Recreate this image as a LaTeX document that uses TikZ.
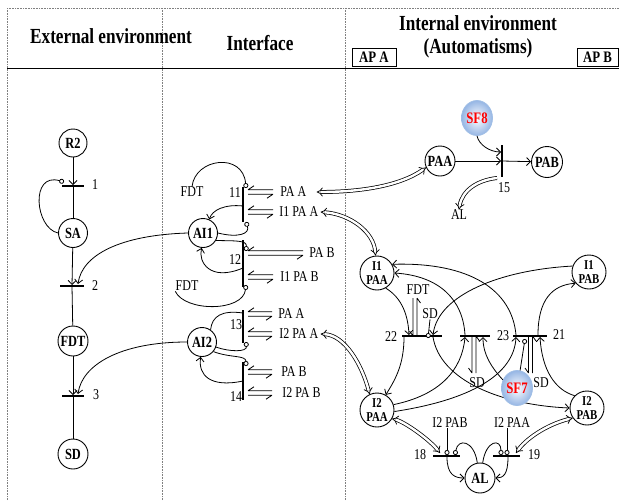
\documentclass[tikz,border=0pt]{standalone}
\usepackage{fontspec}
\setmainfont{Liberation Serif}[FakeStretch=0.8]
\usetikzlibrary{arrows.meta,shapes.geometric}

\tikzset{
  pics/hp/.style={code={
    \draw (0,-2.2) -- (#1,-2.2) (0,-2.2) -- (6,-6.2);
    \draw (0,2.2) -- (#1,2.2) (#1,2.2) -- (#1-6,6.2);
  }},
  pics/vup/.style={code={
    \draw (-2,0) -- (-2,-#1) (-2,0) -- (-5.5,-5);
    \draw (2,0) -- (2,-#1) (2,-#1) -- (5.5,-#1+5);
  }},
  pics/vdown/.style={code={
    \draw (-2,0) -- (-2,#1) (-2,#1) -- (-5.5,#1-5);
    \draw (2,0) -- (2,#1) (2,0) -- (5.5,5);
  }},
}

\begin{document}
\begin{tikzpicture}[x=1pt,y=-1pt,line width=0.8pt,
  place/.style={circle,draw,line width=0.9pt,minimum size=#1,inner sep=0pt,
    font=\bfseries\fontsize{15.5}{15.5}\selectfont},
  place/.default=30pt,
  place2/.style={circle,draw,line width=0.9pt,minimum size=34pt,inner sep=0pt,
    align=center,font=\bfseries\fontsize{13.5}{13.5}\selectfont},
  lbl/.style={inner sep=0pt,font=\fontsize{15}{15}\selectfont},
  hdr/.style={inner sep=0pt,anchor=base,font=\bfseries\fontsize{21.5}{21.5}\selectfont},
  apbox/.style={draw,line width=0.9pt,inner sep=0pt,minimum height=18pt,
    font=\bfseries\fontsize{16}{16}\selectfont},
  hbar/.style={fill=black,inner sep=0pt,minimum height=1.2pt,minimum width=#1},
  vbar/.style={fill=black,inner sep=0pt,minimum width=1.2pt,minimum height=#1},
  arc/.style={-{Straight Barb[length=4pt,width=8pt]}},
  inh/.style={-{Circle[length=5pt,width=5pt,fill=white]}},
  dbl/.style={double,double distance=2.4pt,line width=0.75pt,{Implies}-{Implies}},
  dblto/.style={double,double distance=2.4pt,line width=0.75pt,-{Implies}},
  sfball/.style={ellipse,minimum width=31pt,minimum height=35pt,inner sep=0pt,
    draw={rgb,255:red,160;green,190;blue,230},inner color=white,
    outer color={rgb,255:red,150;green,182;blue,228},text=red,
    font=\bfseries\fontsize{16}{16}\selectfont},
  divider/.style={densely dotted,line width=0.6pt,gray}
]
\useasboundingbox (0,0) rectangle (619,501);

% ---- frame and column headings ----
\draw[divider] (7,8) -- (619,8);
\draw[divider] (7,8) -- (7,501);
\draw[divider] (162,8) -- (162,501);
\draw[divider] (345,8) -- (345,501);
\draw[line width=1pt] (7,68) -- (619,68);

\node[hdr] (hExt) at (111,43) {External environment};
\node[hdr] (hInt) at (260,50) {Interface};
\node[hdr] (hIn1) at (478,30) {Internal environment};
\node[hdr] (hIn2) at (478,53) {(Automatisms)};
\node[apbox,minimum width=44pt] (apA) at (374,57) {AP A};
\node[apbox,minimum width=41pt,anchor=east] (apB) at (618.5,57) {AP B};

% ---- external environment ----
\node[place=28pt] (R2) at (73,143) {R2};
\node[place=29pt] (SA) at (73,233) {SA};
\node[place] (FDT) at (73,341) {FDT};
\node[place] (SD) at (73,454) {SD};
\node[hbar=22pt] (t1) at (73,186) {};
\node[hbar=24pt] (t2) at (72,286) {};
\node[hbar=22pt] (t3) at (73,396) {};
\node[lbl] (n1) at (95,185) {1};
\node[lbl] (n2) at (95,286) {2};
\node[lbl] (n3) at (96,395) {3};

\draw[arc] (R2) -- (t1);
\draw (t1) -- (SA);
\draw[arc] (SA) -- (t2);
\draw (t2) -- (FDT);
\draw[arc] (FDT) -- (t3);
\draw (t3) -- (SD);
\draw[inh] (SA.west) .. controls (35,228) and (30,172) .. (64,182);

% ---- interface ----
\node[place=29pt] (AI1) at (203,233) {AI1};
\node[place=29pt] (AI2) at (202,342) {AI2};
\node[vbar=35pt] (t11) at (243,204.5) {};
\node[vbar=47pt] (t12) at (243,263.5) {};
\node[vbar=33pt] (t13) at (243,326.5) {};
\node[vbar=38pt] (t14) at (243,381) {};
\node[lbl] (n11) at (235,193) {11};
\node[lbl] (n12) at (235,260) {12};
\node[lbl] (n13) at (236,325) {13};
\node[lbl] (n14) at (236,397) {14};
\node[lbl] (fdtA) at (192,192) {FDT};
\node[lbl] (fdtB) at (187,286) {FDT};

\node[lbl,anchor=west] (lPAA1) at (280,192) {PA A};
\node[lbl,anchor=west] (lI1PAA) at (279,212) {I1 PA A};
\node[lbl,anchor=west] (lPAB1) at (309,253) {PA B};
\node[lbl,anchor=west] (lI1PAB) at (280,277) {I1 PA B};
\node[lbl,anchor=west] (lPAA2) at (278,314) {PA A};
\node[lbl,anchor=west] (lI2PAA) at (279,334) {I2 PA A};
\node[lbl,anchor=west] (lPAB2) at (281,372) {PA B};
\node[lbl,anchor=west] (lI2PAB) at (282,393) {I2 PA B};

\pic at (248,192) {hp=25};
\pic at (248,212) {hp=25};
\pic at (248,253) {hp=55};
\pic at (248,277) {hp=25};
\pic at (248,314) {hp=24};
\pic at (248,334) {hp=24};
\pic at (248,372) {hp=24};
\pic at (248,393) {hp=24};

\draw[inh] (fdtA.north) .. controls (195,158) and (243,152) .. (246,188);
\draw[arc] (243,206) .. controls (225,204) and (212,210) .. (AI1.65);
\draw[inh] (AI1.east) .. controls (238,238) and (250,234) .. (246,222);
\draw[inh] (AI1.330) .. controls (235,241) and (247,240) .. (246,251);
\draw[arc] (243,268) .. controls (210,282) and (198,262) .. (AI1.265);
\draw[inh] (fdtB.south west) .. controls (185,312) and (243,312) .. (246,285);

\draw[arc] (AI1.west) .. controls (120,235) and (82,255) .. (78,284);
\draw[arc] (AI2.west) .. controls (120,342) and (82,365) .. (78,394);

\draw (243,313) .. controls (222,310) and (212,316) .. (AI2.55);
\draw[inh] (AI2.340) .. controls (230,352) and (247,352) .. (246,342);
\draw[inh] (AI2.320) .. controls (230,358) and (246,355) .. (246,366);
\draw[arc] (243,381) .. controls (210,388) and (198,375) .. (AI2.265);

% ---- internal environment: automatism A to B ----
\node[place] (PAA) at (440,161) {PAA};
\node[place=31pt] (PAB) at (547,162) {PAB};
\node[vbar=32pt] (t15) at (502,161) {};
\node[lbl] (n15) at (504,188) {15};
\node[lbl] (lAL) at (459,215) {AL};
\node[sfball] (SF8) at (477,118) {SF8};
\draw[arc] (PAA) -- (t15);
\draw[arc] (t15) -- (PAB);
\draw[arc] (SF8.south) .. controls (479,145) and (490,152) .. (501,152);
\draw[dblto] (497,178) .. controls (478,180) and (462,190) .. (lAL.north);

\draw[dbl] (PAA.205) .. controls (400,186) and (360,192) .. ([xshift=10pt]lPAA1.east);

% ---- internal environment: I1 / I2 places ----
\node[place2] (I1PAA) at (377,273) {I1\\PAA};
\node[place2] (I1PAB) at (589,272) {I1\\PAB};
\node[place2] (I2PAA) at (377,410) {I2\\PAA};
\node[place2] (I2PAB) at (587,408) {I2\\PAB};
\node[place] (AL) at (480,478) {AL};

\node[hbar=40pt] (t22) at (422,336) {};
\node[hbar=30pt] (t23) at (475,336) {};
\node[hbar=34pt] (t21) at (530,336) {};
\node[hbar=27pt] (t18) at (446.5,456) {};
\node[hbar=27pt] (t19) at (506.5,456) {};
\node[lbl] (n22) at (391,337) {22};
\node[lbl] (n23) at (503,336) {23};
\node[lbl] (n21) at (559,335) {21};
\node[lbl] (n18) at (420,455) {18};
\node[lbl] (n19) at (534,455) {19};

\node[lbl] (lFDT) at (418,290) {FDT};
\node[lbl] (lSDa) at (430,314) {SD};
\node[lbl] (lSDb) at (477,383) {SD};
\node[lbl] (lSDc) at (541,383) {SD};
\node[lbl] (lI2PABb) at (450,423) {I2 PAB};
\node[lbl] (lI2PAAb) at (512,423) {I2 PAA};

\draw[dbl] ([xshift=2pt]lI1PAA.east) .. controls (350,214) and (374,232) .. (I1PAA.95);
\draw[dbl] ([xshift=2pt]lI2PAA.east) .. controls (345,335) and (362,365) .. (I2PAA.115);

\pic at (415,336) {vup=38};
\draw[inh] (lSDa.south) -- (428,338);
\pic at (474,336) {vdown=37};
\pic at (530.5,336) {vdown=37};

\draw[arc] (516,335) .. controls (512,290) and (470,262) .. (I1PAA.30);
\draw[arc] (465,335) .. controls (463,300) and (440,276) .. (I1PAA.east);
\draw[arc] (I1PAB.160) .. controls (500,270) and (438,295) .. (433,335);
\draw[arc] (I1PAA.300) .. controls (402,298) and (408,315) .. (409,335);
\draw[arc] (538,335) .. controls (538,300) and (552,285) .. (I1PAB.220);
\draw[arc] (404,337) .. controls (404,365) and (395,380) .. (I2PAA.60);
\draw[arc] (433,337) .. controls (440,380) and (500,405) .. (I2PAB.west);
\draw[arc] (I2PAA.18) .. controls (440,395) and (462,370) .. (465,337);
\draw[arc] (I2PAA.355) .. controls (470,400) and (514,375) .. (516,337);
\draw[arc] (I2PAB.135) .. controls (555,390) and (542,370) .. (540,337);

\node[sfball] (SF7) at (517,388) {SF7};
\draw[arc] (SF7.150) .. controls (492,368) and (483,355) .. (483,337);
\draw[inh] (SF7.80) -- (525,339);

% ---- alarm place and transitions 18, 19 ----
\draw[dbl] (I2PAA.330) .. controls (405,422) and (430,440) .. (440,453);
\draw[dbl] (I2PAB.215) .. controls (545,425) and (525,440) .. (516,453);
\draw[inh] ([xshift=-3pt]lI2PABb.south) -- (447,455);
\draw[inh] ([xshift=-5pt]lI2PAAb.south) -- (507,455);
\draw[inh] (AL.100) .. controls (474,440) and (458,438) .. (455,455);
\draw[inh] (AL.80) .. controls (486,440) and (501,438) .. (501,455);
\draw[arc] (447,457) .. controls (447,475) and (455,478) .. (AL.west);
\draw[arc] (508,457) .. controls (508,475) and (503,478) .. (AL.east);
\end{tikzpicture}
\end{document}
